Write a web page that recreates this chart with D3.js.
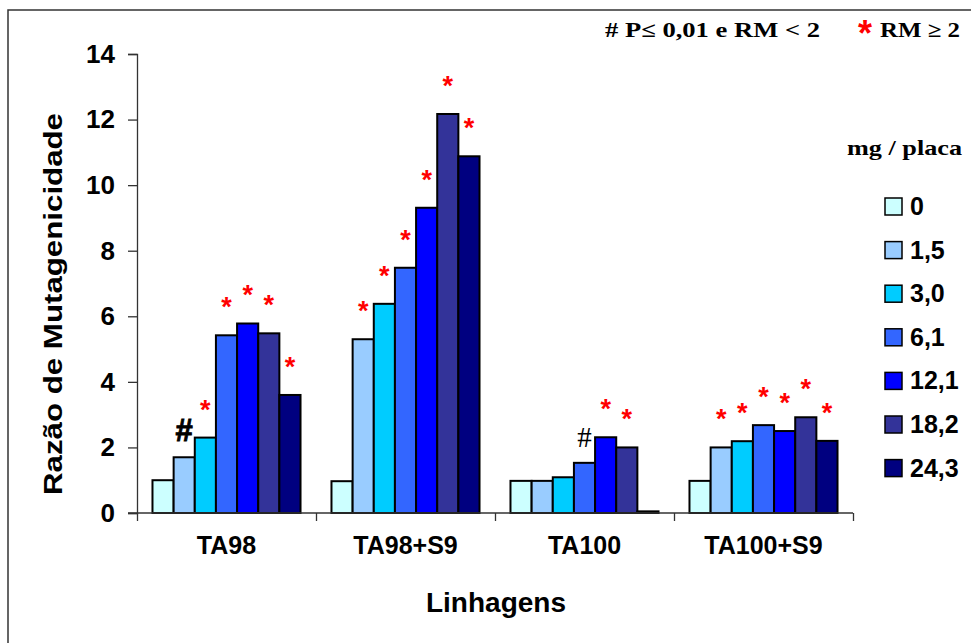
<!DOCTYPE html>
<html>
<head>
<meta charset="utf-8">
<script src="https://cdn.jsdelivr.net/npm/d3@7"></script>
<style>
  body { margin: 0; background: #fff; }
  svg { display: block; }
  .tick text { font-family: "Liberation Sans", Arial, sans-serif; font-weight: bold; }
</style>
</head>
<body>
<div id="chart"></div>
<script>
// data
var categories = ["TA98", "TA98+S9", "TA100", "TA100+S9"];
var doses = ["0", "1,5", "3,0", "6,1", "12,1", "18,2", "24,3"];
var ta98    = [1.0, 1.7, 2.3, 5.42, 5.78, 5.48, 3.6];
var ta98s9  = [0.97, 5.3, 6.38, 7.48, 9.31, 12.17, 10.88];
var ta100   = [0.98, 0.98, 1.09, 1.53, 2.31, 2.0, 0.05];
var ta100s9 = [0.98, 2.0, 2.19, 2.68, 2.5, 2.92, 2.2];
// significance marks per bar
var marks98    = ["", "#", "*", "*", "*", "*", "*"];
var marks98s9  = ["", "*", "*", "*", "*", "*", "*"];
var marks100   = ["", "", "", "#", "*", "*", ""];
var marks100s9 = ["", "*", "*", "*", "*", "*", "*"];
var yTicks = [0, 2, 4, 6, 8, 10, 12, 14];

var series = [ta98, ta98s9, ta100, ta100s9];
var marks = [marks98, marks98s9, marks100, marks100s9];
var colors = ["#CCFFFF", "#99CCFF", "#00CCFF", "#3366FF", "#0000FF", "#333399", "#000080"];

var W = 971, H = 643;
var plot = {left: 137, right: 853, top: 54, bottom: 513};

var svg = d3.select("#chart").append("svg")
            .attr("width", W)
            .attr("height", H);

/***frame***/
svg.append("rect")
   .attr("x", 8).attr("y", 10)
   .attr("width", 1100).attr("height", 900)
   .attr("fill", "none")
   .attr("stroke", "#333")
   .attr("stroke-width", 1.5);

/***scales***/
var x0 = d3.scaleBand()
           .domain(categories)
           .range([plot.left, plot.right])
           .paddingInner(0.173)
           .paddingOuter(0.0865);
var x1 = d3.scaleBand()
           .domain(d3.range(doses.length))
           .range([0, x0.bandwidth()]);
var y = d3.scaleLinear()
          .domain([0, 14])
          .range([plot.bottom, plot.top]);
var color = d3.scaleOrdinal().domain(doses).range(colors);
var xEdge = d3.scaleLinear().domain([0, categories.length]).range([plot.left, plot.right]);

/***bars***/
var groups = svg.selectAll(".grp")
                .data(categories)
                .enter()
                .append("g")
                .attr("class", "grp")
                .attr("transform", function(d){ return "translate(" + x0(d) + ",0)"; });

groups.selectAll("rect")
      .data(function(d, i){ return series[i].map(function(v, j){ return {v: v, j: j}; }); })
      .enter()
      .append("rect")
      .attr("x", function(d){ return x1(d.j); })
      .attr("y", function(d){ return y(d.v); })
      .attr("width", x1.bandwidth())
      .attr("height", function(d){ return plot.bottom - y(d.v); })
      .attr("fill", function(d){ return color(doses[d.j]); })
      .attr("stroke", "#000")
      .attr("stroke-width", 2);

/***marks***/
// first group's "#" is heavy, TA100's is a plain serif one
var plainHash = function(d){ return d.m === "#" && d.g === 2; };
groups.selectAll("text.mk")
      .data(function(d, i){
        return series[i].map(function(v, j){ return {v: v, j: j, m: marks[i][j], g: i}; })
                        .filter(function(d){ return d.m !== ""; });
      })
      .enter()
      .append("text")
      .attr("class", "mk")
      .attr("x", function(d){ return x1(d.j) + x1.bandwidth() / 2; })
      .attr("y", function(d){ return d.m === "*" ? y(d.v) - 19 : y(d.v) - 16; })
      .attr("text-anchor", "middle")
      .attr("font-family", function(d){
        return plainHash(d) ? "Liberation Serif, Times New Roman" : "Liberation Sans, Arial";
      })
      .attr("font-weight", function(d){ return plainHash(d) ? "normal" : "bold"; })
      .attr("font-size", function(d){ return d.m === "*" ? 27 : (plainHash(d) ? 29 : 31); })
      .attr("fill", function(d){ return d.m === "*" ? "#FF0000" : "#000"; })
      .attr("stroke", function(d){ return (d.m === "#" && !plainHash(d)) ? "#000" : "none"; })
      .attr("stroke-width", 0.9)
      .text(function(d){ return d.m; });

/***axes***/
var yAxis = d3.axisLeft(y).tickValues(yTicks).tickSize(9).tickPadding(13);
var gy = svg.append("g")
   .attr("transform", "translate(" + plot.left + ",0)")
   .call(yAxis);
gy.selectAll("text").attr("font-size", 26);

var gx = svg.append("g")
   .attr("transform", "translate(0," + plot.bottom + ")")
   .call(d3.axisBottom(x0).tickSize(0).tickPadding(23));
gx.selectAll("text").attr("font-size", 25);
gx.select(".domain").remove();

var gEdge = svg.append("g")
   .attr("transform", "translate(0," + plot.bottom + ")")
   .call(d3.axisBottom(xEdge).ticks(4).tickSize(8).tickFormat(""));
gEdge.select(".domain").attr("d", "M" + (plot.left - 9) + ",0H" + plot.right);

svg.selectAll(".domain, .tick line")
   .attr("stroke", "#333")
   .attr("stroke-width", 1.3);

/***axis titles***/
svg.append("text")
   .attr("transform", "translate(62,304) rotate(-90)")
   .attr("text-anchor", "middle")
   .attr("font-family", "Liberation Sans, Arial")
   .attr("font-weight", "bold")
   .attr("font-size", 25)
   .attr("textLength", 382)
   .attr("lengthAdjust", "spacingAndGlyphs")
   .text("Razão de Mutagenicidade");

svg.append("text")
   .attr("x", 496).attr("y", 612)
   .attr("text-anchor", "middle")
   .attr("font-family", "Liberation Sans, Arial")
   .attr("font-weight", "bold")
   .attr("font-size", 28)
   .text("Linhagens");

/***top legend***/
svg.append("text")
   .attr("x", 605).attr("y", 37)
   .attr("font-family", "Liberation Serif, Times New Roman")
   .attr("font-weight", "bold")
   .attr("font-size", 21)
   .attr("textLength", 215)
   .attr("lengthAdjust", "spacingAndGlyphs")
   .text("# P\u2264 0,01 e RM < 2");
svg.append("text")
   .attr("x", 865).attr("y", 46)
   .attr("text-anchor", "middle")
   .attr("font-family", "Liberation Sans, Arial")
   .attr("font-weight", "bold")
   .attr("font-size", 36)
   .attr("fill", "#FF0000")
   .text("*");
svg.append("text")
   .attr("x", 880).attr("y", 37)
   .attr("font-family", "Liberation Serif, Times New Roman")
   .attr("font-weight", "bold")
   .attr("font-size", 21)
   .attr("textLength", 80)
   .attr("lengthAdjust", "spacingAndGlyphs")
   .text("RM \u2265 2");

/***dose legend***/
svg.append("text")
   .attr("x", 847).attr("y", 155)
   .attr("font-family", "Liberation Serif, Times New Roman")
   .attr("font-weight", "bold")
   .attr("font-size", 22)
   .attr("textLength", 115)
   .attr("lengthAdjust", "spacingAndGlyphs")
   .text("mg / placa");

var leg = svg.selectAll(".leg")
   .data(doses)
   .enter()
   .append("g")
   .attr("class", "leg")
   .attr("transform", function(d, i){ return "translate(885," + (198 + i * 43.6) + ")"; });
leg.append("rect")
   .attr("width", 17).attr("height", 17)
   .attr("fill", function(d){ return color(d); })
   .attr("stroke", "#000")
   .attr("stroke-width", 1.5);
leg.append("text")
   .attr("x", 25).attr("y", 17)
   .attr("font-family", "Liberation Sans, Arial")
   .attr("font-weight", "bold")
   .attr("font-size", 25)
   .text(function(d){ return d; });
</script>
</body>
</html>
